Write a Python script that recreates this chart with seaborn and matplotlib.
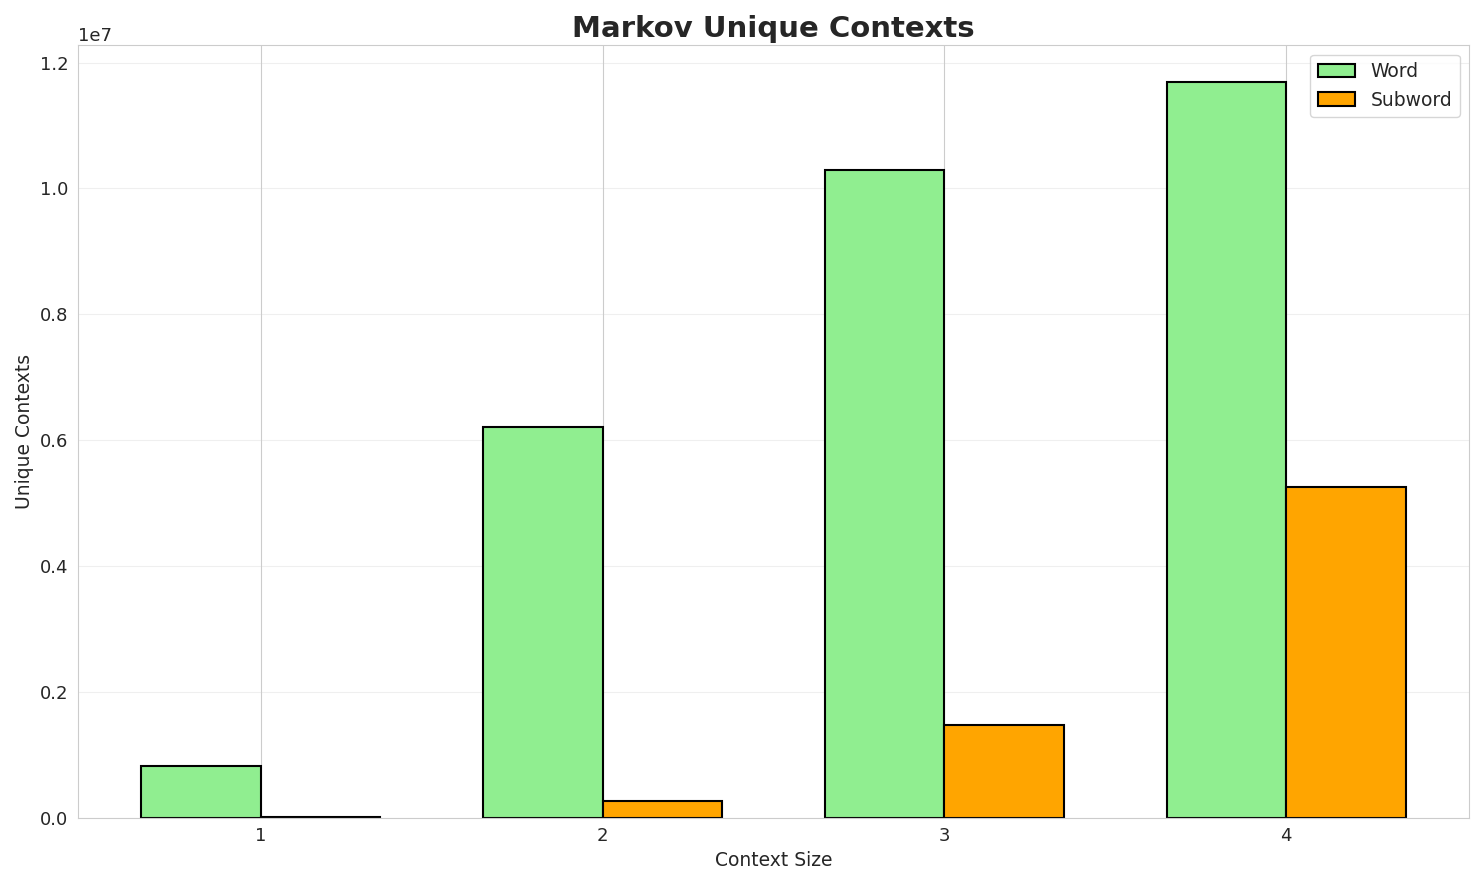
import numpy as np
import seaborn as sns
import matplotlib.pyplot as plt

context_sizes = [1, 2, 3, 4]
word_contexts = [815000, 6210000, 10290000, 11690000]
subword_contexts = [18000, 260000, 1470000, 5250000]

sns.set_style("whitegrid")
fig, ax = plt.subplots(figsize=(14.84, 8.85), dpi=100)

x = np.array(context_sizes)
width = 0.35
ax.bar(x - width, word_contexts, width, align="edge", label="Word",
       color="lightgreen", edgecolor="black", linewidth=1.5)
ax.bar(x, subword_contexts, width, align="edge", label="Subword",
       color="orange", edgecolor="black", linewidth=1.5)

ax.set_xticks(x)
ax.set_xticklabels([str(c) for c in context_sizes], fontsize=13)
ax.tick_params(axis="y", labelsize=13)
ax.set_xlabel("Context Size", fontsize=13.5)
ax.set_ylabel("Unique Contexts", fontsize=13.5)
ax.set_title("Markov Unique Contexts", fontsize=21, fontweight="bold")
ax.grid(axis="y", alpha=0.3)
ax.yaxis.get_offset_text().set_fontsize(13)
ax.legend(fontsize=13.5)

plt.tight_layout()
plt.savefig("out.png", dpi=100)
